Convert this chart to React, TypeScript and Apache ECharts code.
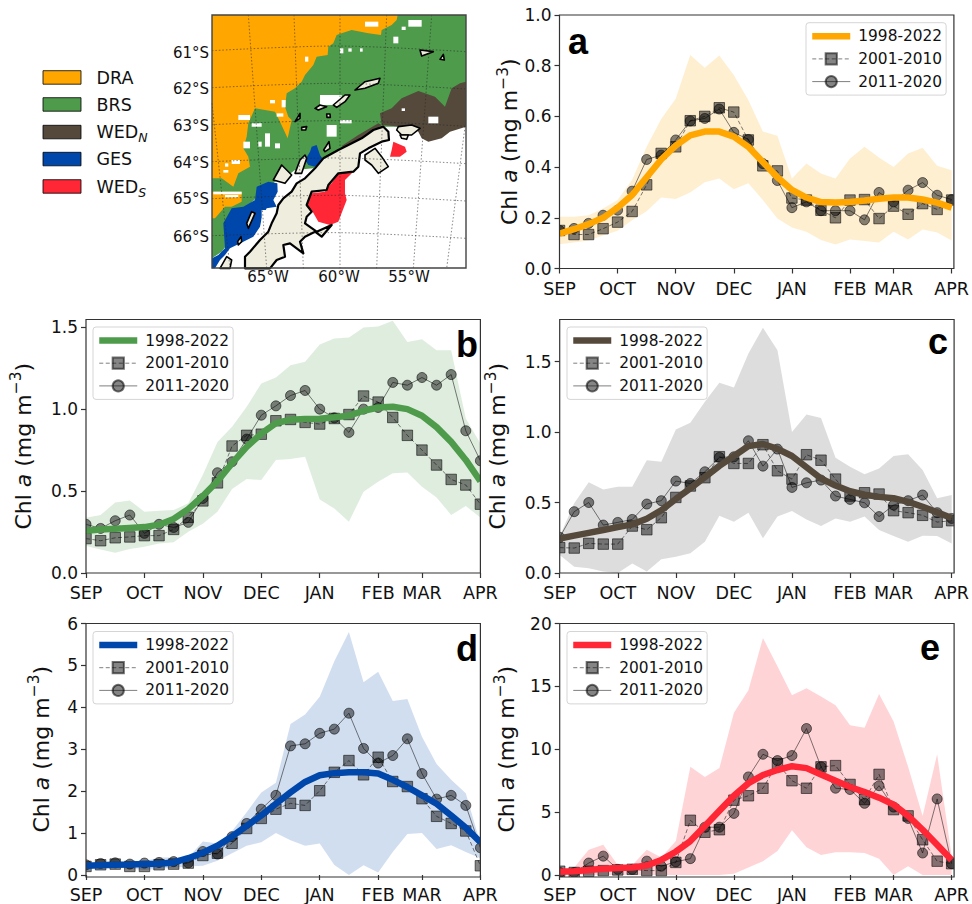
import React, { useEffect, useRef } from "react";
import * as echarts from "echarts";

const MONTHS = ["SEP","","","","OCT","","","","NOV","","","","DEC","","","","JAN","","","","FEB","","","MAR","","","","APR"];

const aMean = [.138,.155,.175,.20,.24,.29,.36,.43,.485,.525,.54,.54,.52,.48,.42,.36,.31,.28,.262,.26,.262,.268,.275,.28,.28,.272,.26,.24];
const a2001 = [.15,.134,.134,.157,.183,.225,.33,.454,.48,.583,.60,.634,.617,.507,.405,.385,.278,.27,.23,.20,.27,.272,.197,.246,.214,.256,.233,.27];
const a2011 = [.15,.158,.178,.21,.23,.305,.43,.447,.507,.582,.592,.629,.537,.509,.414,.347,.24,.263,.228,.228,.228,.192,.30,.263,.309,.339,.289,.272];
const aUpper = [.204,.204,.21,.237,.27,.35,.48,.59,.67,.842,.792,.84,.763,.665,.54,.524,.355,.414,.375,.355,.434,.48,.438,.40,.454,.476,.405,.388];
const aLower = [.096,.103,.11,.13,.149,.19,.226,.28,.274,.30,.34,.355,.313,.336,.27,.197,.162,.145,.112,.095,.114,.108,.103,.145,.114,.154,.142,.11];

const bMean = [.258,.265,.27,.275,.28,.295,.33,.39,.47,.56,.67,.77,.85,.915,.935,.94,.942,.95,.96,.99,1.01,1.015,1.0,.96,.89,.80,.69,.56];
const b2001 = [.21,.197,.215,.22,.228,.228,.266,.34,.44,.55,.775,.84,.847,.929,.937,.919,.909,.943,.967,1.08,1.043,.949,.84,.75,.659,.571,.537,.42];
const b2011 = [.297,.272,.319,.354,.242,.297,.278,.309,.455,.612,.679,.817,.963,1.02,1.083,1.114,1.0,.947,.858,1.0,1.01,1.163,1.146,1.193,1.146,1.211,.868,.685];
const bUpper = [.337,.354,.43,.443,.374,.38,.384,.425,.6,.80,.892,1.014,1.157,1.193,1.268,1.289,1.394,1.431,1.437,1.498,1.504,1.539,1.41,1.427,1.36,1.36,.943,.79];
const bLower = [.165,.144,.124,.146,.16,.18,.187,.252,.30,.374,.512,.573,.567,.689,.695,.709,.449,.394,.313,.496,.557,.608,.614,.526,.461,.354,.409,.339];

const cMean = [.245,.265,.285,.305,.325,.345,.385,.445,.525,.60,.68,.76,.83,.90,.915,.88,.83,.75,.67,.62,.58,.555,.54,.53,.505,.47,.43,.39];
const c2001 = [.18,.177,.21,.205,.205,.333,.307,.392,.536,.617,.676,.825,.777,.777,.91,.725,.666,.839,.80,.666,.546,.569,.56,.442,.428,.409,.361,.371];
const c2011 = [.253,.435,.50,.34,.359,.38,.489,.513,.652,.635,.718,.82,.824,.938,.758,.879,.607,.64,.659,.546,.522,.498,.40,.482,.513,.553,.428,.387];
const cUpper = [.26,.494,.643,.593,.612,.612,.80,.789,1.018,1.065,1.214,1.349,1.316,1.557,1.739,1.58,1.0,1.124,1.10,.817,.754,.70,.742,.83,.843,.73,.53,.553];
const cLower = [.128,.045,.033,.01,0,.068,.01,.097,.116,.14,.222,.406,.364,.428,.246,.40,.44,.38,.333,.387,.364,.40,.305,.262,.222,.265,.262,.21];

const dMean = [.22,.235,.245,.25,.26,.27,.30,.40,.53,.70,.92,1.17,1.42,1.70,1.97,2.22,2.38,2.43,2.45,2.45,2.42,2.27,2.10,1.90,1.70,1.42,1.13,.78];
const d2001 = [.205,.244,.26,.205,.205,.244,.26,.284,.465,.52,.757,1.11,1.35,1.57,1.71,1.66,2.01,2.45,2.73,2.39,2.81,2.23,2.11,1.82,1.40,1.23,1.05,.22];
const d2011 = [.244,.276,.29,.26,.284,.30,.32,.29,.56,.5,.915,1.23,1.57,1.90,3.08,3.13,3.38,3.48,3.86,3.02,2.67,2.85,3.25,2.42,1.81,1.90,1.66,.65];
const dUpper = [.29,.31,.33,.30,.33,.42,.42,.42,.80,.75,1.05,1.50,1.97,2.2,3.6,3.83,4.25,5.1,5.8,4.6,4.85,4.15,4.2,3.3,2.65,2.27,1.95,.75];
const dLower = [.15,.18,.18,.15,.12,.15,.17,.2,.22,.34,.52,.7,.78,1.0,.83,.7,.75,.24,0,.23,.06,.55,.98,1.0,.62,.71,.55,.4];

const eMean = [.25,.3,.4,.5,.55,.6,.75,1.2,1.85,2.7,3.9,5.1,6.3,7.3,7.95,8.35,8.65,8.5,8.0,7.5,7.0,6.6,6.15,5.6,4.7,3.6,2.4,1.2];
const e2001 = [.3,.2,.3,.35,.4,.45,.35,.35,1.0,4.35,3.4,3.6,5.95,6.3,6.9,8.85,7.5,6.9,8.6,8.7,7.2,6.0,8.0,5.2,4.7,2.8,1.1,.9];
const e2011 = [.2,.2,.95,1.5,.45,.45,1.1,.7,1.05,1.3,3.8,3.8,4.9,7.8,9.6,9.1,9.5,11.65,8.6,6.9,6.8,5.7,7.1,5.4,4.5,1.75,6.05,.9];
const eUpper = [.5,.6,2.0,2.4,.8,.8,2.0,1.4,2.7,8.6,7.8,8.5,12.9,14.7,18.85,16.6,14.3,14.85,14.2,13.5,11.9,11.7,14.4,12.2,8.6,4.7,9.6,1.5];
const eLower = [0,0,0,0,0,0,0,0,0,0,0,0,.1,.6,1.1,1.9,3.55,2.2,1.6,1.8,1.8,1.75,1.3,0,.7,0,0,0];

const C_DRA = "#FFA600", C_BRS = "#4D9B4B", C_WEDN = "#54493B", C_GES = "#0047AB", C_WEDS = "#FF2636";
const FONT = "DejaVu Sans";
const TXT = "#111";

const panels = [
  { id: "a", mean: aMean, p1: a2001, p2: a2011, up: aUpper, lo: aLower, color: C_DRA, band: C_DRA, bandOp: .18, left: 559.5, top: 15, max: 1, ticks: [0,.2,.4,.6,.8,1], dec: 1, gap: 35, lgX: 806, lgY: 22.7, tx: 568, ty: 51 },
  { id: "b", mean: bMean, p1: b2001, p2: b2011, up: bUpper, lo: bLower, color: C_BRS, band: C_BRS, bandOp: .18, left: 86, top: 319.5, max: 1.547, ticks: [0,.5,1,1.5], dec: 1, gap: 48, lgX: 93, lgY: 327, tx: 456, ty: 354 },
  { id: "c", mean: cMean, p1: c2001, p2: c2011, up: cUpper, lo: cLower, color: C_WEDN, band: "#777", bandOp: .25, left: 559.7, top: 319.5, max: 1.798, ticks: [0,.5,1,1.5], dec: 1, gap: 47, lgX: 567, lgY: 327, tx: 928, ty: 351 },
  { id: "d", mean: dMean, p1: d2001, p2: d2011, up: dUpper, lo: dLower, color: C_GES, band: C_GES, bandOp: .18, left: 86, top: 623.5, max: 6, ticks: [0,1,2,3,4,5,6], dec: 0, gap: 30, lgX: 93, lgY: 631.5, tx: 456, ty: 658 },
  { id: "e", mean: eMean, p1: e2001, p2: e2011, up: eUpper, lo: eLower, color: C_WEDS, band: C_WEDS, bandOp: .2, left: 559.7, top: 623.5, max: 20, ticks: [0,5,10,15,20], dec: 0, gap: 38, lgX: 567, lgY: 631.5, tx: 920, ty: 657 },
];
const GW = 394.4, GH = 253.5;

// Map geometry, in a 3x working frame
type P = [number, number];
const M = (pts: P[]): number[][] => pts.map(([x, y]) => [205 + x / 3, 10 + y / 3]);

const greenArea: P[] = [[21,15],[783,15],[783,350],[530,350],[460,390],[405,425],[355,450],[325,475],[270,480],[250,495],[210,515],[200,525],[130,585],[70,700],[50,725],[21,745]];
const orangeArea: P[] = [[21,15],[578,15],[575,30],[560,45],[530,60],[528,75],[490,70],[440,60],[410,70],[395,75],[385,100],[370,110],[368,135],[335,140],[325,165],[300,195],[290,215],[270,235],[245,250],[240,290],[250,320],[260,330],[248,385],[225,335],[210,305],[150,295],[130,340],[125,380],[115,415],[130,440],[135,470],[100,490],[85,530],[50,505],[21,505]];
const orangeLow: P[] = [[21,545],[110,545],[110,575],[80,590],[60,590],[30,625],[21,625]];
const blueLow: P[] = [[21,745],[40,735],[60,715],[55,640],[80,595],[115,590],[150,570],[155,530],[190,515],[217,520],[218,545],[205,570],[215,590],[185,595],[170,625],[165,650],[145,680],[115,695],[75,715],[60,735],[45,750],[30,775],[21,775]];
const blueUp: P[] = [[335,405],[345,435],[355,450],[330,470],[310,465],[300,450],[315,425],[320,410]];
const brownArea: P[] = [[783,215],[783,350],[735,365],[710,385],[670,395],[650,385],[640,365],[620,350],[590,350],[530,345],[525,310],[560,295],[590,265],[640,243],[690,260],[720,290],[740,235],[765,220]];
const brownSliver: P[] = [[530,345],[470,388],[420,418],[410,408],[460,375],[520,340]];
const redBig: P[] = [[380,520],[400,490],[445,485],[420,510],[420,550],[425,570],[400,635],[375,645],[340,635],[320,600],[305,590],[320,550],[360,545],[368,530]];
const redSmall: P[] = [[565,395],[600,410],[605,425],[585,440],[555,440],[560,420]];
const whitePatches: number[][] = [[100,315,35,15],[140,340,30,10],[215,310,20,10],[180,370,15,40],[115,395,20,20],[210,400,15,15],[480,35,40,15],[610,30,40,20],[565,80,15,20],[405,115,10,15],[430,115,10,10],[465,115,8,10],[300,140,10,15],[195,270,15,10],[80,450,25,12],[60,460,10,10],[55,480,15,8],[25,545,85,8],[60,555,40,7],[365,345,30,35],[405,330,35,10],[345,255,65,30],[170,600,40,40],[230,270,12,22],[590,50,12,10],[670,320,30,20],[590,295,10,8],[160,395,10,15]];
const landMain: P[] = [[120,775],[120,740],[135,725],[165,690],[190,665],[200,640],[215,610],[220,585],[235,565],[260,545],[275,520],[300,505],[330,475],[355,445],[400,420],[430,405],[470,385],[505,360],[535,350],[550,365],[552,390],[530,395],[490,415],[465,430],[460,470],[445,485],[400,490],[370,525],[365,540],[320,545],[305,585],[320,605],[305,620],[300,640],[335,665],[380,645],[350,680],[330,665],[300,680],[285,695],[295,730],[255,700],[235,705],[240,740],[215,750],[195,775]];
const islands: P[][] = [
  [[480,435],[510,415],[530,440],[550,470],[520,490],[500,465],[480,450]],
  [[230,465],[260,495],[240,520],[205,510]],
  [[285,450],[300,435],[305,445],[290,490],[270,490]],
  [[140,605],[150,610],[130,655],[125,640]],
  [[580,350],[620,345],[645,355],[620,375],[590,375],[575,360]],
  [[585,375],[610,375],[605,388],[590,385]],
  [[45,775],[65,740],[80,750],[75,775]],
  [[450,240],[480,215],[525,205],[520,220],[480,235]],
  [[385,285],[420,255],[435,255],[420,275],[395,292]],
  [[330,295],[345,285],[365,290],[340,300]],
  [[645,120],[685,125],[650,138]],
  [[705,148],[715,133],[718,150]],
  [[270,335],[285,310],[285,325]],
  [[290,352],[305,350],[302,360],[290,360]],
  [[365,312],[375,312],[376,322],[366,322]],
  [[356,420],[372,395],[375,415],[360,425]],
  [[98,695],[108,680],[110,695],[100,705]],
];
const latLines: P[][] = [0,1,2,3,4,5].map((k) => [[21,122+111*k],[400,108+112*k],[783,125+112*k]] as P[]);
const lonLines: P[][] = [
  [[130,15],[185,775]],[[267,15],[295,775]],[[405,15],[405,775]],[[545,15],[515,775]],[[680,15],[625,775]],[[780,350],[725,775]],[[21,280],[75,775]],
];
const latLabels = ["61°S","62°S","63°S","64°S","65°S","66°S"];
const latLabelY = [52.7,89,126,163,199,237];
const lonLabels = ["65°W","60°W","55°W"];
const lonLabelX = [268,339,409];
const regionNames = ["DRA","BRS","{n|WED}{s|N}","GES","{n|WED}{s|S}"];
const regionColors = [C_DRA,C_BRS,C_WEDN,C_GES,C_WEDS];
const regionY = [70.7,97.7,125.3,152.3,179.7];

function poly(pts: P[], fill: string, z = 1, stroke?: string, lw = 0): any {
  return { type: "polygon", silent: true, z, shape: { points: M(pts) }, style: { fill, stroke: stroke || "none", lineWidth: lw, lineJoin: "round" } };
}

function buildGraphics(): any[] {
  const out: any[] = [];
  out.push(poly(greenArea, C_BRS), poly(orangeArea, C_DRA), poly(orangeLow, C_DRA), poly(blueLow, C_GES), poly(blueUp, C_GES), poly(brownArea, C_WEDN), poly(brownSliver, C_WEDN), poly(redBig, C_WEDS), poly(redSmall, C_WEDS));
  whitePatches.forEach(([x, y, w, h]) => out.push({ type: "rect", silent: true, z: 1, shape: { x: 205 + x / 3, y: 10 + y / 3, width: w / 3, height: h / 3 }, style: { fill: "#fff" } }));
  out.push(poly(landMain, "#EEEDDE", 2, "#000", 2.2));
  islands.forEach((isl) => out.push(poly(isl, "#EEEDDE", 2, "#000", 1.6)));
  [...latLines, ...lonLines].forEach((l) => out.push({ type: "polyline", silent: true, z: 3, shape: { points: M(l), smooth: 0.3 }, style: { fill: "none", stroke: "rgba(40,40,40,.55)", lineWidth: 1, lineDash: [1.5, 2] } }));
  out.push({ type: "rect", silent: true, z: 4, shape: { x: 212, y: 15, width: 254, height: 253 }, style: { fill: "none", stroke: "#444", lineWidth: 1.4 } });
  latLabels.forEach((t, i) => out.push({ type: "text", silent: true, z: 4, x: 209, y: latLabelY[i], style: { text: t, fontFamily: FONT, fontSize: 15, fill: TXT, align: "right", verticalAlign: "middle" } }));
  lonLabels.forEach((t, i) => out.push({ type: "text", silent: true, z: 4, x: lonLabelX[i], y: 277, style: { text: t, fontFamily: FONT, fontSize: 15, fill: TXT, align: "center", verticalAlign: "middle" } }));
  regionNames.forEach((t, i) => {
    out.push({ type: "rect", silent: true, z: 4, shape: { x: 43, y: regionY[i], width: 38, height: 13.5 }, style: { fill: regionColors[i], stroke: "rgba(0,0,0,.8)", lineWidth: 1 } });
    out.push({ type: "text", silent: true, z: 4, x: 96.5, y: regionY[i] + 7, style: { text: t, fontFamily: FONT, fontSize: 17.5, fill: TXT, align: "left", verticalAlign: "middle", rich: { n: { fontFamily: FONT, fontSize: 17.5, fill: TXT, lineHeight: 24, verticalAlign: "middle" }, s: { fontFamily: FONT, fontSize: 12.5, fontStyle: "italic", fill: TXT, verticalAlign: "bottom", lineHeight: 24 } } } });
  });
  panels.forEach((p) => {
    const m = 12;
    const r = [[p.left - m, p.top - m, m, GH + 2 * m],[p.left + GW, p.top - m, m, GH + 2 * m],[p.left - m, p.top - m, GW + 2 * m, m],[p.left - m, p.top + GH, GW + 2 * m, m]];
    r.forEach(([x, y, w, h]) => out.push({ type: "rect", silent: true, z: 5, shape: { x, y, width: w, height: h }, style: { fill: "#fff" } }));
    out.push({ type: "rect", silent: true, z: 11, shape: { x: p.left, y: p.top, width: GW, height: GH }, style: { fill: "none", stroke: "#333", lineWidth: 1.2 } });
    out.push({ type: "text", silent: true, z: 20, x: p.tx, y: p.ty + 8, style: { text: p.id, fontFamily: "Liberation Sans", fontWeight: "bold", fontSize: 36, fill: "#000", align: "left", verticalAlign: "bottom" } });
  });
  return out;
}

function buildOption(): any {
  const grid: any[] = [], xAxis: any[] = [], yAxis: any[] = [], series: any[] = [], legend: any[] = [];
  panels.forEach((p, i) => {
    grid.push({ left: p.left, top: p.top, width: GW, height: GH, show: false, containLabel: false });
    const showIdx = (_: number, v: string) => v !== "";
    xAxis.push({ type: "category", gridIndex: i, data: MONTHS, boundaryGap: false, z: 10,
      axisLine: { show: false }, axisTick: { show: true, length: 5, interval: showIdx, lineStyle: { color: "#333", width: 1.2 } },
      axisLabel: { show: true, interval: 0, margin: 11, fontFamily: FONT, fontSize: 17.5, color: TXT }, splitLine: { show: false } });
    yAxis.push({ type: "value", gridIndex: i, min: 0, max: p.max, z: 10,
      name: "{n|Chl }{i|a}{n| (mg m}{s|−3}{n|)}", nameLocation: "middle", nameRotate: 90, nameGap: p.gap,
      nameTextStyle: { fontFamily: FONT, fontSize: 22, color: TXT, rich: {
        n: { fontFamily: FONT, fontSize: 22, color: TXT, lineHeight: 30 },
        i: { fontFamily: FONT, fontSize: 22, fontStyle: "italic", color: TXT, lineHeight: 30 },
        s: { fontFamily: FONT, fontSize: 15.5, color: TXT, verticalAlign: "top", lineHeight: 22 } } },
      axisLine: { show: false }, splitLine: { show: false },
      axisTick: { show: true, length: 5, customValues: p.ticks, lineStyle: { color: "#333", width: 1.2 } },
      axisLabel: { show: true, margin: 8, customValues: p.ticks, fontFamily: FONT, fontSize: 17, color: TXT, formatter: (v: number) => v.toFixed(p.dec) } });
    const base = { type: "line", xAxisIndex: i, yAxisIndex: i, animation: false, silent: true };
    const stack = "band" + p.id;
    series.push({ ...base, name: p.id + " lower", stack, data: p.lo, symbol: "none", lineStyle: { width: 0, opacity: 0 }, z: 1 });
    series.push({ ...base, name: p.id + " band", stack, data: p.up.map((u, k) => +(u - p.lo[k]).toFixed(4)), symbol: "none", lineStyle: { width: 0, opacity: 0 }, areaStyle: { color: p.band, opacity: p.bandOp }, z: 1 });
    const mk = { color: "rgba(0,0,0,.48)", borderColor: "rgba(0,0,0,.55)", borderWidth: 1 };
    series.push({ ...base, name: p.id + " 2001-2010", data: p.p1, symbol: "rect", symbolSize: 10.5, showAllSymbol: true, itemStyle: mk, lineStyle: { color: "rgba(0,0,0,.5)", width: 1, type: [4, 2.5] }, z: 2 });
    series.push({ ...base, name: p.id + " 2011-2020", data: p.p2, symbol: "circle", symbolSize: 10, showAllSymbol: true, itemStyle: mk, lineStyle: { color: "rgba(0,0,0,.5)", width: 1 }, z: 2 });
    series.push({ ...base, name: p.id + " 1998-2022", data: p.mean, symbol: "none", itemStyle: { color: p.color }, lineStyle: { color: p.color, width: 6.5 }, z: 3 });
    legend.push({ show: true, left: p.lgX, top: p.lgY, orient: "vertical", z: 20, selectedMode: false, itemWidth: 38, itemHeight: 14, itemGap: 7.7, padding: [6, 4, 6, 3],
      backgroundColor: "rgba(255,255,255,.85)", borderColor: "#d5d5d5", borderWidth: 1, borderRadius: 3,
      data: [
        { name: p.id + " 1998-2022", itemStyle: { opacity: 0, borderWidth: 0 }, lineStyle: { width: 6.5, color: p.color, opacity: 1 } },
        { name: p.id + " 2001-2010", lineStyle: { width: 1, color: "rgba(0,0,0,.5)", type: [4, 2.5] } },
        { name: p.id + " 2011-2020", lineStyle: { width: 1, color: "rgba(0,0,0,.5)" } },
      ],
      formatter: (n: string) => n.slice(2),
      textStyle: { fontFamily: FONT, fontSize: 15.4, color: TXT, padding: [0, 0, 0, 3] } });
  });
  return { animation: false, backgroundColor: "#fff", grid, xAxis, yAxis, series, legend, tooltip: { show: false }, graphic: { elements: buildGraphics() } };
}

export default function App() {
  const ref = useRef<HTMLDivElement>(null);
  useEffect(() => {
    const chart = echarts.init(ref.current!, undefined, { renderer: "svg" });
    chart.setOption(buildOption());
    return () => chart.dispose();
  }, []);
  return <div ref={ref} style={{ position: "absolute", left: 0, top: 0, width: 972, height: 904 }} />;
}
